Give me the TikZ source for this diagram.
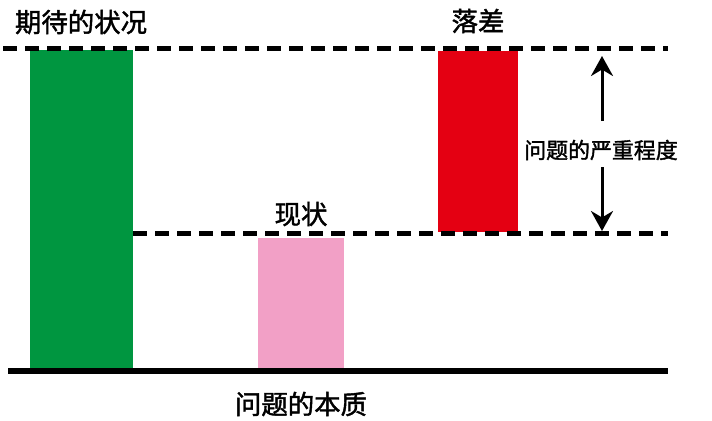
\documentclass[tikz,border=0pt]{standalone}
\usepackage{fontspec}
\newfontfamily\cjk[FakeBold=1.6]{Noto Sans CJK SC}
\usetikzlibrary{arrows.meta}
\definecolor{barGreen}{RGB}{0,150,64}
\definecolor{barRed}{RGB}{228,0,18}
\definecolor{barPink}{RGB}{242,160,198}
\tikzset{
  lbl/.style={font=\cjk\fontsize{26.5}{28}\selectfont, inner sep=0pt},
  lblsmall/.style={font=\cjk\fontsize{22}{24}\selectfont, inner sep=0pt},
  dline/.style={line width=5bp, dash pattern=on 14bp off 8bp},
  baseln/.style={line width=5.5bp},
  arr/.style={line width=3bp, -{Stealth[length=20bp,width=22bp]}},
}
\begin{document}
\begin{tikzpicture}[x=1bp,y=-1bp]
\useasboundingbox (0,0) rectangle (712,420);
% bars
\fill[barGreen] (30,50) rectangle (133,368);
\fill[barPink] (258,238) rectangle (344,368);
\fill[barRed] (438,51) rectangle (518,232);
% lines
\draw[dline] (3,48) -- (668,48);
\draw[dline] (133,233) -- (668,233);
\draw[baseln] (8,371) -- (668,371);
% labels
\node[lbl] (expect) at (81,22) {期待的状况};
\node[lbl] (gap) at (478,21) {落差};
\node[lbl] (now) at (301,214) {现状};
\node[lbl] (essence) at (301,404) {问题的本质};
\node[lblsmall] (sev) at (601,150) {问题的严重程度};
% arrows
\coordinate (upTip) at (602,56);
\coordinate (dnTip) at (602,231);
\draw[arr] (602,121) -- (upTip);
\draw[arr] (602,167) -- (dnTip);
\end{tikzpicture}
\end{document}
